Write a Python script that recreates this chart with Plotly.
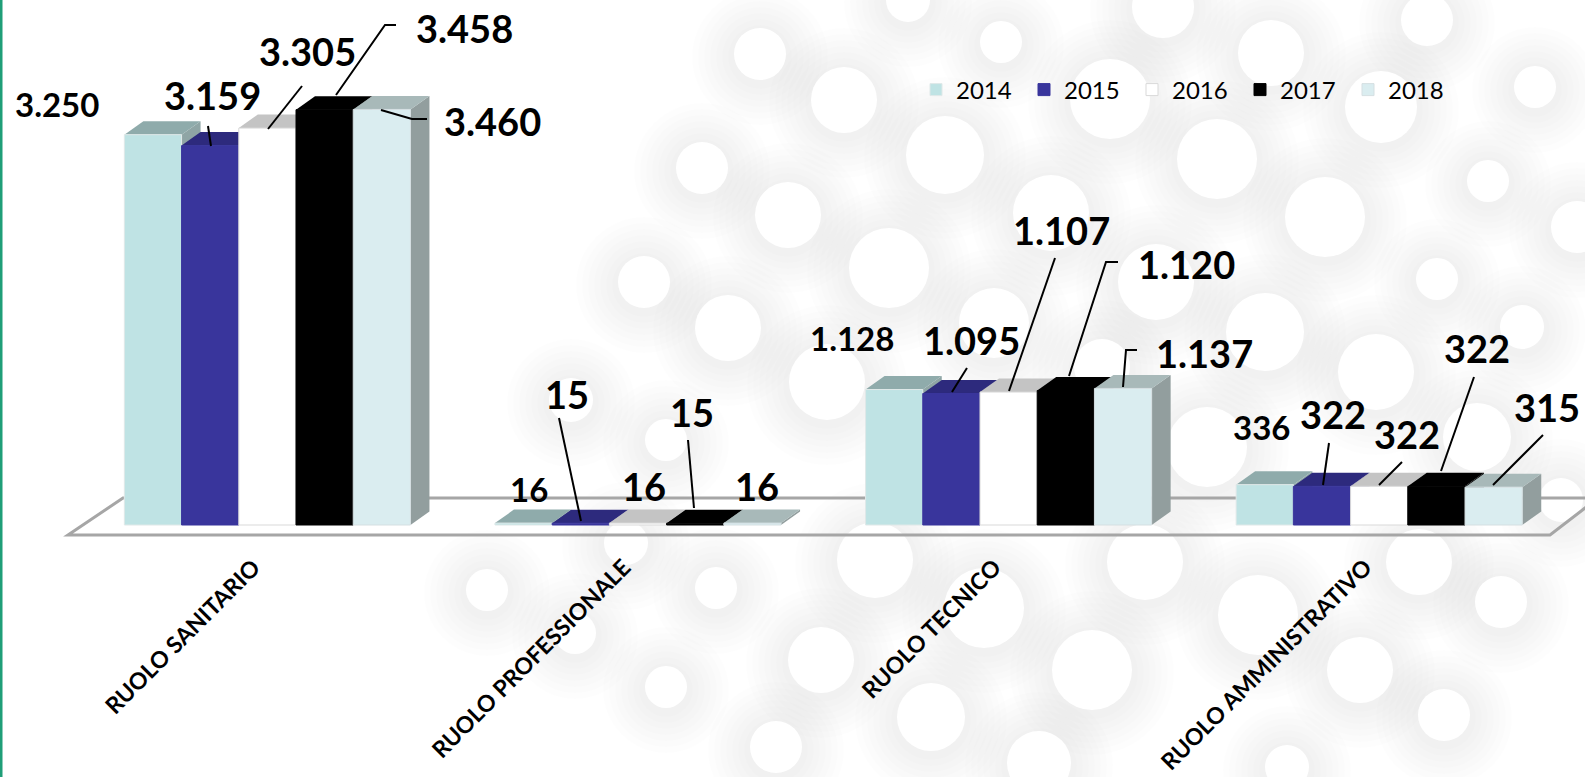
import plotly.graph_objects as go

# ---------- data ----------
categories = ["RUOLO SANITARIO", "RUOLO PROFESSIONALE", "RUOLO TECNICO", "RUOLO AMMINISTRATIVO"]
years = ["2014", "2015", "2016", "2017", "2018"]
v2014 = [3250, 16, 1128, 336]
v2015 = [3159, 15, 1095, 322]
v2016 = [3305, 16, 1107, 322]
v2017 = [3458, 15, 1120, 322]
v2018 = [3460, 16, 1137, 315]
series = [v2014, v2015, v2016, v2017, v2018]

# ---------- styles ----------
front = ["#bfe3e4", "#39359c", "#ffffff", "#000000", "#daedf0"]
top = ["#8fabab", "#2d2a7d", "#c4c4c4", "#000000", "#a8b9b9"]
side = ["#8fa5a5", "#2d2a7d", "#c4c4c4", "#000000", "#929e9e"]

W, H = 1585, 777
AXIS_PX = 537          # pixel row of the bottom of the plot area
BASE_PX = 525          # pixel row of value 0
PX_PER_UNIT = 0.1201
CAT_STEP = 370.6
CAT0_PX = 267.4
BARGAP = 0.228
DEPTH_X = 19 / CAT_STEP
DEPTH_Y = 13.5 / PX_PER_UNIT
bar_w = (1 - BARGAP) / 5


def fx(px):
    return px / W


def fy(py):
    return 1 - py / AXIS_PX


shapes = []

# ---------- background: soft shadows and white discs ----------
discs = [
    (760, 54, 26), (844, 100, 33), (1001, 42, 21), (1271, 53, 33), (908, 0, 22), (1163, 7, 31),
    (1427, 20, 26), (1110, 99, 40), (1381, 107, 36), (1535, 87, 21), (945, 155, 39), (1217, 159, 40),
    (702, 168, 26), (1488, 181, 21), (788, 215, 33), (1051, 213, 38), (1325, 217, 40), (1577, 227, 26),
    (644, 282, 26), (889, 268, 40), (1437, 279, 21), (1156, 282, 38), (728, 328, 33), (994, 323, 35),
    (1265, 332, 39), (1522, 327, 22), (1376, 372, 38), (827, 382, 38), (1102, 367, 28), (487, 590, 21),
    (716, 588, 21), (575, 633, 21), (666, 687, 21), (821, 660, 33), (875, 560, 38), (984, 608, 40),
    (1145, 562, 38), (1258, 615, 40), (1092, 670, 40), (931, 717, 34), (1360, 670, 33), (1501, 602, 26),
    (1444, 715, 26), (776, 747, 26), (1039, 763, 32), (1287, 767, 22), (1419, 562, 33), (1207, 447, 40),
    (1477, 437, 34), (1561, 500, 22), (626, 543, 22), (571, 400, 22), (666, 440, 21),
]
for cx, cy, r in discs:
    for extra in (42, 36, 30, 24, 18, 12, 6):
        shapes.append(dict(type="circle", xref="paper", yref="paper", layer="below",
                           x0=fx(cx - r - extra), x1=fx(cx + r + extra),
                           y0=fy(cy + 3 - r - extra), y1=fy(cy + 3 + r + extra),
                           fillcolor="rgba(0,0,0,0.007)", line=dict(width=0)))
for cx, cy, r in discs:
    shapes.append(dict(type="circle", xref="paper", yref="paper", layer="below",
                       x0=fx(cx - r), x1=fx(cx + r), y0=fy(cy - r), y1=fy(cy + r),
                       fillcolor="#ffffff", line=dict(width=0)))

# ---------- left stripe ----------
shapes.append(dict(type="rect", xref="paper", yref="paper", layer="below",
                   x0=0, x1=fx(2.5), y0=fy(0), y1=fy(H), fillcolor="#1f9e78", line=dict(width=0)))

# ---------- floor ----------
floor_pts = [(68, 535), (123, 498), (1598, 498), (1550, 535)]
floor_path = "M" + " L".join(f"{fx(x):.5f},{fy(y):.5f}" for x, y in floor_pts) + " Z"
shapes.append(dict(type="path", xref="paper", yref="paper", layer="below", path=floor_path,
                   line=dict(color="#a6a6a6", width=3)))

# ---------- 3D sides and tops, derived from the values, under the front faces ----------
for j in range(5):
    for i, v in enumerate(series[j]):
        x0 = i - (1 - BARGAP) / 2 + j * bar_w
        x1 = x0 + bar_w
        shapes.append(dict(type="path", xref="x", yref="y", layer="below",
                           path=f"M{x1},0 L{x1 + DEPTH_X},{DEPTH_Y} L{x1 + DEPTH_X},{v + DEPTH_Y} L{x1},{v} Z",
                           fillcolor=side[j], line=dict(width=0)))
        shapes.append(dict(type="path", xref="x", yref="y", layer="below",
                           path=f"M{x0},{v} L{x0 + DEPTH_X},{v + DEPTH_Y} L{x1 + DEPTH_X},{v + DEPTH_Y} L{x1},{v} Z",
                           fillcolor=top[j], line=dict(width=0)))

# ---------- data labels ----------
label_pos = [
    [(57, 104, 33), (212, 95, 38), (307, 51, 38), (464, 28, 38), (493, 121, 38)],
    [(529, 489, 33), (567, 394, 38), (644, 486, 38), (692, 412, 38), (757, 486, 38)],
    [(852, 338, 33), (971, 340, 38), (1061, 230, 38), (1186, 264, 38), (1204, 353, 38)],
    [(1261, 427, 33), (1333, 414, 38), (1407, 434, 38), (1477, 348, 38), (1547, 407, 38)],
]
annotations = []
for i, row in enumerate(label_pos):
    for j, (px, py, size) in enumerate(row):
        text = f"{series[j][i]:,}".replace(",", ".")
        annotations.append(dict(xref="paper", yref="paper", x=fx(px), y=fy(py), text=f"<b>{text}</b>",
                                showarrow=False, xanchor="center", yanchor="middle",
                                font=dict(family="Lato", size=size, color="#000000")))

# ---------- leader lines ----------
leaders = [
    [(208, 126), (211, 146)],
    [(302, 86), (268, 129)],
    [(396, 25), (385, 25), (336, 95)],
    [(427, 119), (412, 119), (381, 110)],
    [(559, 418), (581, 521)],
    [(688, 440), (694, 508)],
    [(967, 368), (952, 392)],
    [(1055, 258), (1009, 391)],
    [(1118, 262), (1106, 262), (1069, 376)],
    [(1137, 350), (1126, 350), (1123, 387)],
    [(1329, 443), (1323, 485)],
    [(1402, 462), (1379, 485)],
    [(1474, 377), (1441, 471)],
    [(1543, 435), (1493, 485)],
]
for pts in leaders:
    path = "M" + " L".join(f"{fx(x):.5f},{fy(y):.5f}" for x, y in pts)
    shapes.append(dict(type="path", xref="paper", yref="paper", layer="above", path=path,
                       line=dict(color="#000000", width=2)))

# ---------- figure ----------
fig = go.Figure()
outline = ["#dfe8e8", "#39359c", "#d9d9d9", "#000000", "#d5dfe2"]
for j, year in enumerate(years):
    fig.add_trace(go.Bar(x=list(range(4)), y=series[j], name=year,
                         marker=dict(color=front[j], line=dict(color=outline[j], width=1))))

fig.update_layout(
    width=W, height=H,
    margin=dict(l=0, r=0, t=0, b=H - AXIS_PX, pad=0),
    autosize=False,
    paper_bgcolor="#ffffff", plot_bgcolor="rgba(0,0,0,0)",
    barmode="group", bargap=BARGAP, bargroupgap=0,
    shapes=shapes, annotations=annotations,
    font=dict(family="Lato", color="#000000"),
    legend=dict(orientation="h", x=fx(916), y=fy(90), xanchor="left", yanchor="middle",
                bgcolor="rgba(0,0,0,0)", font=dict(family="Lato", size=24),
                entrywidth=63, entrywidthmode="pixels", itemwidth=30, tracegroupgap=0,
                traceorder="normal"),
    xaxis=dict(range=[-CAT0_PX / CAT_STEP, (W - CAT0_PX) / CAT_STEP],
               tickmode="array", tickvals=list(range(4)), ticktext=[f"<b>{c}</b>" for c in categories],
               tickangle=-45, ticks="outside", ticklen=7, tickcolor="rgba(0,0,0,0)",
               ticklabelshift=-14,
               tickfont=dict(family="Lato", size=23, color="#000000"),
               showline=False, showgrid=False, zeroline=False, automargin=False, fixedrange=True),
    yaxis=dict(range=[-(AXIS_PX - BASE_PX) / PX_PER_UNIT, BASE_PX / PX_PER_UNIT],
               visible=False, showgrid=False, zeroline=False, automargin=False, fixedrange=True),
)

fig.write_html("out.html", config=dict(displayModeBar=False),
               post_script="document.body.style.margin='0';document.body.style.overflow='hidden';")
